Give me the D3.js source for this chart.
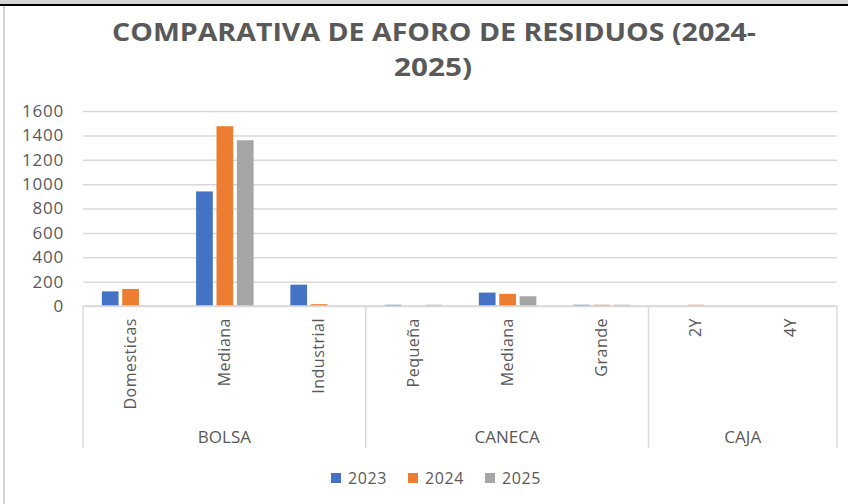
<!DOCTYPE html>
<html>
<head>
<meta charset="utf-8">
<script src="https://cdn.jsdelivr.net/npm/d3@7"></script>
<style>
  html, body { margin: 0; padding: 0; background: #fff; }
  svg { display: block; font-family: 'Open Sans', sans-serif; }
</style>
</head>
<body>
<div id="chart"></div>
<script>
const groups = ['BOLSA', 'CANECA', 'CAJA'];
const leafGroups = ['BOLSA', 'BOLSA', 'BOLSA', 'CANECA', 'CANECA', 'CANECA', 'CAJA', 'CAJA'];
const leafLabels = ['Domesticas', 'Mediana', 'Industrial', 'Pequeña', 'Mediana', 'Grande', '2Y', '4Y'];
const years = ['2023', '2024', '2025'];
const values2023 = [120, 940, 175, 10, 110, 10, 0, 0];
const values2024 = [140, 1475, 15, 0, 100, 10, 10, 0];
const values2025 = [0, 1360, 0, 10, 80, 10, 0, 0];
const yTicks = [0, 200, 400, 600, 800, 1000, 1200, 1400, 1600];
const colors = ['#4472C4', '#ED7D31', '#A5A5A5'];

const w = 848;
const h = 504;

const svg = d3.select('#chart')
    .append('svg')
    .attr('width', w)
    .attr('height', h);

// window frame bits from the screenshot
svg.append('rect').attr('x', 0).attr('y', 0).attr('width', w).attr('height', 4).attr('fill', '#d4d4d4');
svg.append('rect').attr('x', 0).attr('y', 4).attr('width', w).attr('height', 2).attr('fill', '#000');
svg.append('rect').attr('x', 3).attr('y', 6).attr('width', 2).attr('height', h - 6).attr('fill', '#d4d4d4');

const plot = { left: 83, right: 837, top: 111, bottom: 306, axisBottom: 448 };

const x = d3.scaleBand()
    .domain(d3.range(leafLabels.length))
    .range([plot.left, plot.right]);

const xInner = d3.scaleBand()
    .domain(years)
    .range([x.bandwidth() * 0.2, x.bandwidth() * 0.81])
    .paddingInner(0.18);

const y = d3.scaleLinear()
    .domain([0, 1600])
    .range([plot.bottom, plot.top]);

// title
const title = svg.append('g')
    .attr('fill', '#595959')
    .attr('font-weight', 'bold')
    .attr('font-size', 25)
    .attr('text-anchor', 'middle');
title.append('text')
    .attr('x', 434).attr('y', 41)
    .attr('textLength', 644).attr('lengthAdjust', 'spacingAndGlyphs')
    .text('COMPARATIVA  DE AFORO DE RESIDUOS (2024-');
title.append('text')
    .attr('x', 433).attr('y', 76)
    .attr('textLength', 78).attr('lengthAdjust', 'spacingAndGlyphs')
    .text('2025)');

// gridlines + y axis
const yAxis = d3.axisLeft(y)
    .tickValues(yTicks)
    .tickFormat(d3.format('d'))
    .tickSize(-(plot.right - plot.left))
    .tickPadding(19);

svg.append('g')
    .attr('transform', `translate(${plot.left},0)`)
    .call(yAxis)
    .call(g => g.select('.domain').remove())
    .call(g => g.selectAll('.tick line').attr('stroke', '#d9d9d9').attr('stroke-width', 1.5))
    .call(g => g.selectAll('.tick text')
        .attr('fill', '#595959')
        .attr('font-size', 17)
        .attr('font-family', 'Open Sans, sans-serif')
        .attr('letter-spacing', 0.8));

// bars
const series = [values2023, values2024, values2025];
const barData = [];
series.forEach((vals, si) => {
    vals.forEach((v, i) => barData.push({ i: i, year: years[si], value: v, color: colors[si] }));
});

svg.append('g')
    .selectAll('rect')
    .data(barData.filter(d => d.value > 0))
    .enter()
    .append('rect')
    .attr('x', d => x(d.i) + xInner(d.year))
    .attr('y', d => y(d.value))
    .attr('width', xInner.bandwidth())
    .attr('height', d => y(0) - y(d.value))
    .attr('fill', d => d.color);

// category axis
const axisG = svg.append('g')
    .attr('stroke', '#d9d9d9')
    .attr('stroke-width', 1.5);
axisG.append('line')
    .attr('x1', plot.left).attr('x2', plot.right)
    .attr('y1', plot.bottom).attr('y2', plot.bottom);

const groupSpans = groups.map(gName => {
    const idx = leafGroups.map((g, i) => g === gName ? i : -1).filter(i => i >= 0);
    return { name: gName, x0: x(idx[0]), x1: x(idx[idx.length - 1]) + x.bandwidth() };
});

const bounds = [plot.left].concat(groupSpans.map(d => d.x1));
axisG.selectAll('line.sep')
    .data(bounds)
    .enter()
    .append('line')
    .attr('class', 'sep')
    .attr('x1', d => d).attr('x2', d => d)
    .attr('y1', plot.bottom).attr('y2', plot.axisBottom);

svg.append('g')
    .selectAll('text')
    .data(leafLabels)
    .enter()
    .append('text')
    .attr('transform', (d, i) => `translate(${x(i) + x.bandwidth() / 2},318) rotate(-90)`)
    .attr('text-anchor', 'end')
    .attr('dy', '0.36em')
    .attr('fill', '#595959')
    .attr('font-size', 16)
    .attr('letter-spacing', 0.5)
    .text(d => d);

svg.append('g')
    .selectAll('text')
    .data(groupSpans)
    .enter()
    .append('text')
    .attr('x', d => (d.x0 + d.x1) / 2)
    .attr('y', 443)
    .attr('text-anchor', 'middle')
    .attr('fill', '#595959')
    .attr('font-size', 17)
    .text(d => d.name);

// legend
const legend = svg.append('g')
    .selectAll('g')
    .data(years)
    .enter()
    .append('g')
    .attr('transform', (d, i) => `translate(${331 + i * 77},473)`);
legend.append('rect')
    .attr('width', 10).attr('height', 10)
    .attr('fill', (d, i) => colors[i]);
legend.append('text')
    .attr('x', 17).attr('y', 11)
    .attr('fill', '#595959')
    .attr('font-size', 16)
    .attr('letter-spacing', 0.6)
    .text(d => d);
</script>
</body>
</html>
